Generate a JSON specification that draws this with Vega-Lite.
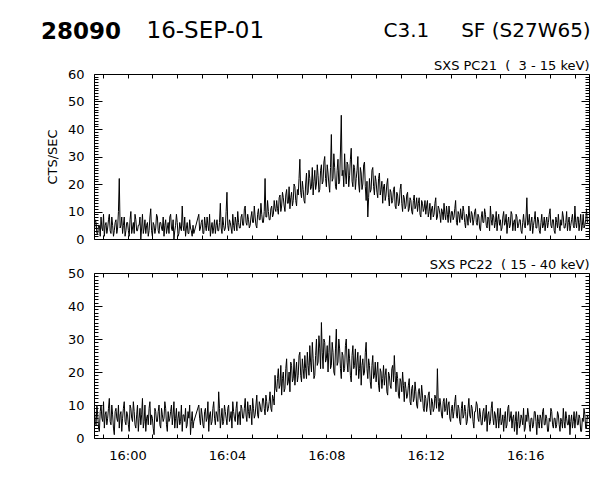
{
"$schema": "https://vega.github.io/schema/vega-lite/v6.json",
"padding": {"left": 40, "top": 18, "right": 5, "bottom": 5},
"background": "white",
"config": {
  "font": "DejaVu Sans",
  "view": {"stroke": "black", "strokeWidth": 1},
  "axis": {"grid": false, "domain": false, "labelFont": "DejaVu Sans", "titleFont": "DejaVu Sans", "labelColor": "black", "titleColor": "black", "tickColor": "black", "labelFontSize": 13, "titleFontSize": 13, "titleFontWeight": "normal", "labelOverlap": false, "labelFlush": false, "tickWidth": 1, "minExtent": 0, "maxExtent": 200},
  "concat": {"spacing": 11}
},
"title": {"text": "C3.1\u00a0\u00a0\u00a0\u00a0\u00a0SF (S27W65)", "anchor": "end", "fontSize": 20, "fontWeight": "normal", "font": "DejaVu Sans", "color": "black", "dy": 26},
"data": {"values": [
{"t":-80,"a":3,"b":9},{"t":-78,"a":7,"b":5},{"t":-76,"a":6,"b":4},{"t":-74,"a":2,"b":10},{"t":-72,"a":2,"b":7},{"t":-70,"a":5,"b":3},{"t":-68,"a":5,"b":2},{"t":-66,"a":1,"b":8},{"t":-64,"a":8,"b":10},{"t":-62,"a":4,"b":6},
{"t":-60,"a":3,"b":5},{"t":-58,"a":9,"b":11},{"t":-56,"a":1,"b":3},{"t":-54,"a":5,"b":7},{"t":-52,"a":6,"b":8},{"t":-50,"a":2,"b":4},{"t":-48,"a":4,"b":6},{"t":-46,"a":7,"b":9},{"t":-44,"a":9,"b":12},{"t":-42,"a":3,"b":5},
{"t":-40,"a":2,"b":4},{"t":-38,"a":8,"b":10},{"t":-36,"a":5,"b":7},{"t":-34,"a":1,"b":3},{"t":-32,"a":3,"b":1},{"t":-30,"a":6,"b":8},{"t":-28,"a":7,"b":9},{"t":-26,"a":2,"b":6},{"t":-24,"a":4,"b":5},{"t":-22,"a":10,"b":10},
{"t":-20,"a":22,"b":3},{"t":-18,"a":4,"b":7},{"t":-16,"a":5,"b":8},{"t":-14,"a":8,"b":2},{"t":-12,"a":2,"b":6},{"t":-10,"a":5,"b":9},{"t":-8,"a":8,"b":11},{"t":-6,"a":1,"b":5},{"t":-4,"a":3,"b":4},{"t":-2,"a":6,"b":8},
{"t":0,"a":6,"b":7},{"t":2,"a":3,"b":4},{"t":4,"a":1,"b":2},{"t":6,"a":7,"b":10},{"t":8,"a":10,"b":9},{"t":10,"a":2,"b":6},{"t":12,"a":4,"b":5},{"t":14,"a":6,"b":11},{"t":16,"a":2,"b":8},{"t":18,"a":9,"b":4},
{"t":20,"a":7,"b":3},{"t":22,"a":3,"b":7},{"t":24,"a":3,"b":10},{"t":26,"a":5,"b":2},{"t":28,"a":5,"b":6},{"t":30,"a":8,"b":9},{"t":32,"a":0,"b":4},{"t":34,"a":4,"b":7},{"t":36,"a":9,"b":12},{"t":38,"a":2,"b":3},
{"t":40,"a":4,"b":5},{"t":42,"a":7,"b":10},{"t":44,"a":2,"b":2},{"t":46,"a":5,"b":6},{"t":48,"a":6,"b":7},{"t":50,"a":1,"b":4},{"t":52,"a":3,"b":9},{"t":54,"a":8,"b":11},{"t":56,"a":11,"b":4},{"t":58,"a":3,"b":7},
{"t":60,"a":1,"b":6},{"t":62,"a":6,"b":3},{"t":64,"a":5,"b":1},{"t":66,"a":2,"b":9},{"t":68,"a":4,"b":8},{"t":70,"a":9,"b":5},{"t":72,"a":8,"b":5},{"t":74,"a":3,"b":8},{"t":76,"a":2,"b":10},{"t":78,"a":6,"b":4},
{"t":80,"a":6,"b":3},{"t":82,"a":4,"b":9},{"t":84,"a":3,"b":7},{"t":86,"a":8,"b":5},{"t":88,"a":1,"b":6},{"t":90,"a":5,"b":11},{"t":92,"a":7,"b":9},{"t":94,"a":2,"b":4},{"t":96,"a":4,"b":2},{"t":98,"a":6,"b":8},
{"t":100,"a":2,"b":5},{"t":102,"a":8,"b":6},{"t":104,"a":9,"b":8},{"t":106,"a":4,"b":10},{"t":108,"a":3,"b":4},{"t":110,"a":7,"b":7},{"t":112,"a":0,"b":11},{"t":114,"a":3,"b":3},{"t":116,"a":5,"b":6},{"t":118,"a":9,"b":9},
{"t":120,"a":6,"b":3},{"t":122,"a":1,"b":6},{"t":124,"a":2,"b":8},{"t":126,"a":6,"b":4},{"t":128,"a":4,"b":5},{"t":130,"a":3,"b":10},{"t":132,"a":12,"b":2},{"t":134,"a":5,"b":7},{"t":136,"a":3,"b":7},{"t":138,"a":8,"b":5},
{"t":140,"a":1,"b":9},{"t":142,"a":4,"b":3},{"t":144,"a":6,"b":4},{"t":146,"a":2,"b":8},{"t":148,"a":2,"b":6},{"t":150,"a":7,"b":10},{"t":152,"a":4,"b":1},{"t":154,"a":3,"b":5},{"t":156,"a":1,"b":8},{"t":158,"a":5,"b":3},
{"t":160,"a":2,"b":5},{"t":172,"a":9,"b":10},{"t":174,"a":3,"b":6},{"t":176,"a":4,"b":4},{"t":178,"a":6,"b":9},{"t":180,"a":7,"b":7},{"t":182,"a":2,"b":4},{"t":184,"a":2,"b":3},{"t":186,"a":8,"b":8},{"t":188,"a":5,"b":9},
{"t":190,"a":3,"b":5},{"t":192,"a":8,"b":6},{"t":194,"a":5,"b":11},{"t":196,"a":3,"b":2},{"t":198,"a":9,"b":7},{"t":200,"a":1,"b":8},{"t":202,"a":4,"b":4},{"t":204,"a":6,"b":5},{"t":206,"a":2,"b":9},{"t":208,"a":4,"b":11},
{"t":210,"a":7,"b":6},{"t":212,"a":2,"b":4},{"t":214,"a":5,"b":8},{"t":216,"a":7,"b":7},{"t":218,"a":3,"b":5},{"t":220,"a":3,"b":14},{"t":222,"a":6,"b":9},{"t":224,"a":13,"b":3},{"t":226,"a":4,"b":6},{"t":228,"a":2,"b":9},
{"t":230,"a":8,"b":4},{"t":232,"a":5,"b":5},{"t":234,"a":3,"b":10},{"t":236,"a":4,"b":8},{"t":238,"a":10,"b":6},{"t":240,"a":17,"b":4},{"t":242,"a":5,"b":9},{"t":244,"a":3,"b":10},{"t":246,"a":7,"b":5},{"t":248,"a":6,"b":6},
{"t":250,"a":4,"b":8},{"t":252,"a":2,"b":3},{"t":254,"a":9,"b":11},{"t":256,"a":5,"b":8},{"t":258,"a":3,"b":6},{"t":260,"a":8,"b":5},{"t":262,"a":6,"b":9},{"t":264,"a":3,"b":11},{"t":266,"a":10,"b":4},{"t":268,"a":6,"b":7},
{"t":270,"a":4,"b":8},{"t":272,"a":4,"b":4},{"t":274,"a":8,"b":10},{"t":276,"a":9,"b":9},{"t":278,"a":5,"b":6},{"t":280,"a":5,"b":6},{"t":282,"a":11,"b":9},{"t":284,"a":12,"b":12},{"t":286,"a":6,"b":7},{"t":288,"a":5,"b":5},
{"t":290,"a":9,"b":11},{"t":292,"a":7,"b":8},{"t":294,"a":4,"b":6},{"t":296,"a":5,"b":10},{"t":298,"a":8,"b":8},{"t":300,"a":10,"b":4},{"t":302,"a":6,"b":12},{"t":304,"a":6,"b":9},{"t":306,"a":12,"b":6},{"t":308,"a":8,"b":7},
{"t":310,"a":5,"b":10},{"t":312,"a":4,"b":13},{"t":314,"a":9,"b":7},{"t":316,"a":11,"b":6},{"t":318,"a":7,"b":11},{"t":320,"a":7,"b":10},{"t":322,"a":13,"b":8},{"t":324,"a":9,"b":8},{"t":326,"a":6,"b":12},{"t":328,"a":6,"b":12},
{"t":330,"a":10,"b":9},{"t":332,"a":22,"b":7},{"t":334,"a":8,"b":13},{"t":336,"a":8,"b":11},{"t":338,"a":14,"b":8},{"t":340,"a":10,"b":9},{"t":342,"a":7,"b":11},{"t":344,"a":7,"b":14},{"t":346,"a":11,"b":9},{"t":348,"a":12,"b":8},
{"t":350,"a":8,"b":13},{"t":352,"a":9,"b":12},{"t":354,"a":14,"b":10},{"t":356,"a":11,"b":19},{"t":358,"a":10,"b":15},{"t":360,"a":14,"b":14},{"t":362,"a":11,"b":18},{"t":364,"a":9,"b":21},{"t":366,"a":15,"b":15},{"t":368,"a":16,"b":16},
{"t":370,"a":10,"b":22},{"t":372,"a":12,"b":13},{"t":374,"a":17,"b":18},{"t":376,"a":15,"b":20},{"t":378,"a":12,"b":14},{"t":380,"a":10,"b":15},{"t":382,"a":16,"b":21},{"t":384,"a":18,"b":24},{"t":386,"a":13,"b":16},{"t":388,"a":13,"b":17},
{"t":390,"a":19,"b":20},{"t":392,"a":11,"b":14},{"t":394,"a":15,"b":23},{"t":396,"a":17,"b":22},{"t":398,"a":12,"b":17},{"t":400,"a":14,"b":18},{"t":402,"a":20,"b":24},{"t":404,"a":19,"b":16},{"t":406,"a":14,"b":20},{"t":408,"a":12,"b":23},
{"t":410,"a":18,"b":17},{"t":412,"a":16,"b":19},{"t":414,"a":22,"b":25},{"t":416,"a":29,"b":26},{"t":418,"a":17,"b":19},{"t":420,"a":15,"b":17},{"t":422,"a":21,"b":24},{"t":424,"a":18,"b":21},{"t":426,"a":14,"b":18},{"t":428,"a":13,"b":25},
{"t":430,"a":20,"b":21},{"t":432,"a":24,"b":18},{"t":434,"a":16,"b":26},{"t":436,"a":17,"b":22},{"t":438,"a":25,"b":19},{"t":440,"a":22,"b":28},{"t":442,"a":18,"b":23},{"t":444,"a":19,"b":20},{"t":446,"a":26,"b":29},{"t":448,"a":16,"b":24},
{"t":450,"a":21,"b":18},{"t":452,"a":25,"b":19},{"t":454,"a":18,"b":25},{"t":456,"a":20,"b":30},{"t":458,"a":27,"b":22},{"t":460,"a":23,"b":23},{"t":462,"a":17,"b":31},{"t":464,"a":18,"b":27},{"t":466,"a":25,"b":21},{"t":468,"a":27,"b":35},
{"t":470,"a":20,"b":26},{"t":472,"a":21,"b":21},{"t":474,"a":28,"b":30},{"t":476,"a":30,"b":29},{"t":478,"a":22,"b":23},{"t":480,"a":19,"b":24},{"t":482,"a":27,"b":28},{"t":484,"a":24,"b":20},{"t":486,"a":20,"b":26},{"t":488,"a":17,"b":31},
{"t":490,"a":26,"b":21},{"t":492,"a":38,"b":22},{"t":494,"a":21,"b":29},{"t":496,"a":22,"b":26},{"t":498,"a":31,"b":20},{"t":500,"a":26,"b":19},{"t":502,"a":19,"b":27},{"t":504,"a":18,"b":33},{"t":506,"a":25,"b":22},{"t":508,"a":29,"b":23},
{"t":510,"a":20,"b":30},{"t":512,"a":21,"b":27},{"t":514,"a":32,"b":21},{"t":516,"a":45,"b":18},{"t":518,"a":23,"b":26},{"t":520,"a":25,"b":25},{"t":522,"a":19,"b":20},{"t":524,"a":31,"b":21},{"t":526,"a":24,"b":28},{"t":528,"a":20,"b":30},
{"t":530,"a":28,"b":23},{"t":532,"a":27,"b":20},{"t":534,"a":19,"b":27},{"t":536,"a":23,"b":24},{"t":538,"a":29,"b":19},{"t":540,"a":33,"b":17},{"t":542,"a":21,"b":25},{"t":544,"a":19,"b":28},{"t":546,"a":27,"b":21},{"t":548,"a":26,"b":22},
{"t":550,"a":18,"b":27},{"t":552,"a":22,"b":19},{"t":554,"a":25,"b":23},{"t":556,"a":30,"b":26},{"t":558,"a":20,"b":18},{"t":560,"a":17,"b":21},{"t":562,"a":26,"b":25},{"t":564,"a":24,"b":16},{"t":566,"a":18,"b":22},{"t":568,"a":20,"b":24},
{"t":570,"a":27,"b":19},{"t":572,"a":28,"b":20},{"t":574,"a":19,"b":26},{"t":576,"a":14,"b":29},{"t":578,"a":21,"b":21},{"t":580,"a":8,"b":18},{"t":582,"a":15,"b":24},{"t":584,"a":22,"b":22},{"t":586,"a":17,"b":17},{"t":588,"a":18,"b":15},
{"t":590,"a":25,"b":22},{"t":592,"a":26,"b":25},{"t":594,"a":19,"b":18},{"t":596,"a":16,"b":19},{"t":598,"a":23,"b":23},{"t":600,"a":21,"b":17},{"t":602,"a":17,"b":20},{"t":604,"a":15,"b":23},{"t":606,"a":22,"b":16},{"t":608,"a":24,"b":14},
{"t":610,"a":16,"b":21},{"t":612,"a":18,"b":20},{"t":614,"a":21,"b":15},{"t":616,"a":13,"b":18},{"t":618,"a":19,"b":22},{"t":620,"a":20,"b":16},{"t":622,"a":14,"b":19},{"t":624,"a":16,"b":21},{"t":626,"a":20,"b":14},{"t":628,"a":22,"b":13},
{"t":630,"a":15,"b":20},{"t":632,"a":12,"b":19},{"t":634,"a":18,"b":16},{"t":636,"a":17,"b":15},{"t":638,"a":13,"b":21},{"t":640,"a":14,"b":22},{"t":642,"a":18,"b":17},{"t":644,"a":19,"b":25},{"t":646,"a":12,"b":19},{"t":648,"a":11,"b":14},
{"t":650,"a":17,"b":20},{"t":652,"a":16,"b":18},{"t":654,"a":12,"b":13},{"t":656,"a":13,"b":12},{"t":658,"a":18,"b":18},{"t":660,"a":20,"b":17},{"t":662,"a":13,"b":14},{"t":664,"a":10,"b":20},{"t":666,"a":16,"b":16},{"t":668,"a":15,"b":11},
{"t":670,"a":11,"b":17},{"t":672,"a":12,"b":15},{"t":674,"a":16,"b":12},{"t":676,"a":17,"b":13},{"t":678,"a":10,"b":16},{"t":680,"a":11,"b":18},{"t":682,"a":15,"b":11},{"t":684,"a":14,"b":10},{"t":686,"a":10,"b":15},{"t":688,"a":9,"b":16},
{"t":690,"a":14,"b":11},{"t":692,"a":16,"b":12},{"t":694,"a":11,"b":17},{"t":696,"a":12,"b":14},{"t":698,"a":15,"b":10},{"t":700,"a":10,"b":9},{"t":702,"a":13,"b":14},{"t":704,"a":15,"b":15},{"t":706,"a":9,"b":12},{"t":708,"a":8,"b":11},
{"t":710,"a":14,"b":16},{"t":712,"a":13,"b":13},{"t":714,"a":10,"b":9},{"t":716,"a":11,"b":8},{"t":718,"a":14,"b":13},{"t":720,"a":9,"b":12},{"t":722,"a":12,"b":8},{"t":724,"a":14,"b":10},{"t":726,"a":8,"b":13},{"t":728,"a":10,"b":14},
{"t":730,"a":13,"b":9},{"t":732,"a":7,"b":7},{"t":734,"a":11,"b":12},{"t":736,"a":12,"b":11},{"t":738,"a":8,"b":8},{"t":740,"a":9,"b":9},{"t":742,"a":13,"b":13},{"t":744,"a":15,"b":12},{"t":746,"a":7,"b":9},{"t":748,"a":8,"b":21},
{"t":750,"a":12,"b":11},{"t":752,"a":11,"b":8},{"t":754,"a":9,"b":12},{"t":756,"a":6,"b":10},{"t":758,"a":11,"b":7},{"t":760,"a":10,"b":6},{"t":762,"a":7,"b":11},{"t":764,"a":13,"b":12},{"t":766,"a":9,"b":8},{"t":768,"a":7,"b":9},
{"t":770,"a":12,"b":12},{"t":772,"a":9,"b":7},{"t":774,"a":6,"b":10},{"t":776,"a":12,"b":11},{"t":778,"a":9,"b":6},{"t":780,"a":6,"b":5},{"t":782,"a":10,"b":9},{"t":784,"a":10,"b":10},{"t":786,"a":7,"b":6},{"t":788,"a":8,"b":8},
{"t":790,"a":11,"b":11},{"t":792,"a":14,"b":13},{"t":794,"a":6,"b":7},{"t":796,"a":5,"b":6},{"t":798,"a":10,"b":10},{"t":800,"a":9,"b":9},{"t":802,"a":6,"b":5},{"t":804,"a":11,"b":4},{"t":806,"a":8,"b":9},{"t":808,"a":7,"b":11},
{"t":810,"a":12,"b":6},{"t":812,"a":10,"b":7},{"t":814,"a":6,"b":10},{"t":816,"a":4,"b":8},{"t":818,"a":9,"b":4},{"t":820,"a":8,"b":5},{"t":822,"a":5,"b":9},{"t":824,"a":12,"b":12},{"t":826,"a":8,"b":7},{"t":828,"a":6,"b":6},
{"t":830,"a":10,"b":10},{"t":832,"a":9,"b":9},{"t":834,"a":5,"b":5},{"t":836,"a":7,"b":3},{"t":838,"a":10,"b":8},{"t":840,"a":11,"b":8},{"t":842,"a":6,"b":11},{"t":844,"a":5,"b":10},{"t":846,"a":9,"b":6},{"t":848,"a":8,"b":5},
{"t":850,"a":4,"b":9},{"t":852,"a":3,"b":7},{"t":854,"a":8,"b":4},{"t":856,"a":10,"b":4},{"t":858,"a":6,"b":8},{"t":860,"a":6,"b":9},{"t":862,"a":11,"b":5},{"t":864,"a":9,"b":6},{"t":866,"a":5,"b":10},{"t":868,"a":4,"b":2},
{"t":870,"a":8,"b":7},{"t":872,"a":7,"b":8},{"t":874,"a":3,"b":4},{"t":876,"a":12,"b":5},{"t":878,"a":7,"b":9},{"t":880,"a":5,"b":11},{"t":882,"a":9,"b":6},{"t":884,"a":8,"b":4},{"t":886,"a":4,"b":8},{"t":888,"a":6,"b":7},
{"t":890,"a":10,"b":3},{"t":892,"a":3,"b":6},{"t":894,"a":7,"b":9},{"t":896,"a":9,"b":3},{"t":898,"a":5,"b":6},{"t":900,"a":7,"b":9},{"t":902,"a":3,"b":4},{"t":904,"a":4,"b":5},{"t":906,"a":8,"b":7},{"t":908,"a":10,"b":2},
{"t":910,"a":5,"b":6},{"t":912,"a":6,"b":8},{"t":914,"a":9,"b":3},{"t":916,"a":2,"b":4},{"t":918,"a":6,"b":9},{"t":920,"a":8,"b":10},{"t":922,"a":4,"b":5},{"t":924,"a":5,"b":6},{"t":926,"a":10,"b":8},{"t":928,"a":9,"b":3},
{"t":930,"a":3,"b":6},{"t":932,"a":6,"b":7},{"t":934,"a":7,"b":2},{"t":936,"a":3,"b":5},{"t":938,"a":9,"b":8},{"t":940,"a":8,"b":1},{"t":942,"a":4,"b":5},{"t":944,"a":5,"b":8},{"t":946,"a":7,"b":3},{"t":948,"a":7,"b":4},
{"t":950,"a":3,"b":7},{"t":952,"a":2,"b":6},{"t":954,"a":6,"b":4},{"t":956,"a":9,"b":9},{"t":958,"a":5,"b":2},{"t":960,"a":4,"b":3},{"t":962,"a":8,"b":7},{"t":964,"a":15,"b":5},{"t":966,"a":5,"b":9},{"t":968,"a":6,"b":7},
{"t":970,"a":9,"b":4},{"t":972,"a":3,"b":2},{"t":974,"a":6,"b":6},{"t":976,"a":8,"b":6},{"t":978,"a":2,"b":3},{"t":980,"a":5,"b":4},{"t":982,"a":7,"b":8},{"t":984,"a":10,"b":8},{"t":986,"a":4,"b":5},{"t":988,"a":4,"b":1},
{"t":990,"a":8,"b":7},{"t":992,"a":7,"b":5},{"t":994,"a":3,"b":3},{"t":996,"a":2,"b":7},{"t":998,"a":6,"b":6},{"t":1000,"a":9,"b":3},{"t":1002,"a":4,"b":8},{"t":1004,"a":5,"b":9},{"t":1006,"a":8,"b":4},{"t":1008,"a":3,"b":4},
{"t":1010,"a":6,"b":7},{"t":1012,"a":8,"b":6},{"t":1014,"a":4,"b":2},{"t":1016,"a":6,"b":2},{"t":1018,"a":9,"b":6},{"t":1020,"a":11,"b":5},{"t":1022,"a":5,"b":9},{"t":1024,"a":4,"b":8},{"t":1026,"a":7,"b":4},{"t":1028,"a":7,"b":3},
{"t":1030,"a":3,"b":6},{"t":1032,"a":2,"b":6},{"t":1034,"a":8,"b":3},{"t":1036,"a":6,"b":4},{"t":1038,"a":4,"b":8},{"t":1040,"a":9,"b":7},{"t":1042,"a":5,"b":4},{"t":1044,"a":3,"b":2},{"t":1046,"a":7,"b":6},{"t":1048,"a":5,"b":5},
{"t":1050,"a":10,"b":3},{"t":1052,"a":8,"b":9},{"t":1054,"a":4,"b":5},{"t":1056,"a":4,"b":3},{"t":1058,"a":6,"b":8},{"t":1060,"a":10,"b":6},{"t":1062,"a":3,"b":4},{"t":1064,"a":6,"b":4},{"t":1066,"a":8,"b":7},{"t":1068,"a":3,"b":1},
{"t":1070,"a":5,"b":5},{"t":1072,"a":7,"b":7},{"t":1074,"a":9,"b":3},{"t":1076,"a":5,"b":5},{"t":1078,"a":4,"b":8},{"t":1080,"a":12,"b":3},{"t":1082,"a":6,"b":6},{"t":1084,"a":4,"b":8},{"t":1086,"a":8,"b":4},{"t":1088,"a":8,"b":4},
{"t":1090,"a":3,"b":7},{"t":1092,"a":6,"b":6},{"t":1094,"a":9,"b":2},{"t":1096,"a":3,"b":2},{"t":1098,"a":5,"b":6},{"t":1100,"a":9,"b":5},{"t":1102,"a":4,"b":9},{"t":1104,"a":5,"b":7},{"t":1106,"a":7,"b":3},{"t":1108,"a":11,"b":3},
{"t":1110,"a":6,"b":7},{"t":1112,"a":7,"b":6}
]},
"vconcat": [
  {
    "width": 495, "height": 165,
    "title": {"text": "28090", "anchor": "start", "frame": "group", "dx": -53, "fontSize": 23, "fontWeight": "bold", "font": "DejaVu Sans", "color": "black", "offset": -25},
    "layer": [
      {
        "mark": {"type": "line", "color": "black", "strokeWidth": 1},
        "encoding": {
          "x": {"field": "t", "type": "quantitative", "scale": {"domain": [-81, 1114], "nice": false, "zero": false},
                "axis": {"orient": "bottom", "values": [-60,0,60,120,180,240,300,360,420,480,540,600,660,720,780,840,900,960,1020,1080], "labels": false, "tickSize": -4,
                         "title": "16-SEP-01", "titleFontSize": 23, "titleFontWeight": "normal", "titleX": 52, "titleY": -202, "titleAlign": "left", "titleBaseline": "alphabetic", "titleAngle": 0}},
          "y": {"field": "a", "type": "quantitative", "scale": {"domain": [0, 60], "nice": false, "zero": false},
                "axis": {"orient": "left", "values": [0,1,2,3,4,5,6,7,8,9,10,11,12,13,14,15,16,17,18,19,20,21,22,23,24,25,26,27,28,29,30,31,32,33,34,35,36,37,38,39,40,41,42,43,44,45,46,47,48,49,50,51,52,53,54,55,56,57,58,59,60],
                         "tickSize": -8, "tickDash": {"condition": {"test": "datum.value % 10 === 0", "value": [20, 1]}, "value": [4, 20]},
                         "labelExpr": "datum.value % 10 === 0 ? datum.label : ''", "labelPadding": 18, "title": "CTS/SEC", "titlePadding": 8}}
        }
      },
      {
        "mark": {"type": "line", "strokeOpacity": 0},
        "encoding": {
          "x": {"field": "t", "type": "quantitative", "scale": {"domain": [-81, 1114], "nice": false, "zero": false},
                "axis": {"orient": "top", "values": [-60,0,60,120,180,240,300,360,420,480,540,600,660,720,780,840,900,960,1020,1080], "labels": false, "tickSize": -4, "title": "SXS PC21\u00a0\u00a0(\u00a0\u00a03 - 15 keV)", "titleAnchor": "end", "titlePadding": 1}},
          "y": {"field": "a", "type": "quantitative", "scale": {"domain": [0, 60], "nice": false, "zero": false},
                "axis": {"orient": "right", "values": [0,1,2,3,4,5,6,7,8,9,10,11,12,13,14,15,16,17,18,19,20,21,22,23,24,25,26,27,28,29,30,31,32,33,34,35,36,37,38,39,40,41,42,43,44,45,46,47,48,49,50,51,52,53,54,55,56,57,58,59,60],
                         "labels": false, "tickSize": -8, "tickDash": {"condition": {"test": "datum.value % 10 === 0", "value": [20, 1]}, "value": [4, 20]}, "title": null}}
        }
      }
    ],
    "resolve": {"axis": {"x": "independent", "y": "independent"}}
  },
  {
    "width": 495, "height": 165,
    "layer": [
      {
        "mark": {"type": "line", "color": "black", "strokeWidth": 1},
        "encoding": {
          "x": {"field": "t", "type": "quantitative", "scale": {"domain": [-81, 1114], "nice": false, "zero": false},
                "axis": {"orient": "bottom", "values": [-60,0,60,120,180,240,300,360,420,480,540,600,660,720,780,840,900,960,1020,1080], "tickSize": -4, "labelPadding": 15,
                         "labelExpr": "datum.value % 240 === 0 ? '16:' + (datum.value < 600 ? '0' : '') + (datum.value / 60) : ''", "title": null}},
          "y": {"field": "b", "type": "quantitative", "scale": {"domain": [0, 50], "nice": false, "zero": false},
                "axis": {"orient": "left", "values": [0,1,2,3,4,5,6,7,8,9,10,11,12,13,14,15,16,17,18,19,20,21,22,23,24,25,26,27,28,29,30,31,32,33,34,35,36,37,38,39,40,41,42,43,44,45,46,47,48,49,50],
                         "tickSize": -8, "tickDash": {"condition": {"test": "datum.value % 10 === 0", "value": [20, 1]}, "value": [4, 20]},
                         "labelExpr": "datum.value % 10 === 0 ? datum.label : ''", "labelPadding": 18, "title": null}}
        }
      },
      {
        "mark": {"type": "line", "strokeOpacity": 0},
        "encoding": {
          "x": {"field": "t", "type": "quantitative", "scale": {"domain": [-81, 1114], "nice": false, "zero": false},
                "axis": {"orient": "top", "values": [-60,0,60,120,180,240,300,360,420,480,540,600,660,720,780,840,900,960,1020,1080], "labels": false, "tickSize": -4, "title": "SXS PC22\u00a0\u00a0(\u00a015 - 40 keV)", "titleAnchor": "end", "titlePadding": 1}},
          "y": {"field": "b", "type": "quantitative", "scale": {"domain": [0, 50], "nice": false, "zero": false},
                "axis": {"orient": "right", "values": [0,1,2,3,4,5,6,7,8,9,10,11,12,13,14,15,16,17,18,19,20,21,22,23,24,25,26,27,28,29,30,31,32,33,34,35,36,37,38,39,40,41,42,43,44,45,46,47,48,49,50],
                         "labels": false, "tickSize": -8, "tickDash": {"condition": {"test": "datum.value % 10 === 0", "value": [20, 1]}, "value": [4, 20]}, "title": null}}
        }
      }
    ],
    "resolve": {"axis": {"x": "independent", "y": "independent"}}
  }
]
}
